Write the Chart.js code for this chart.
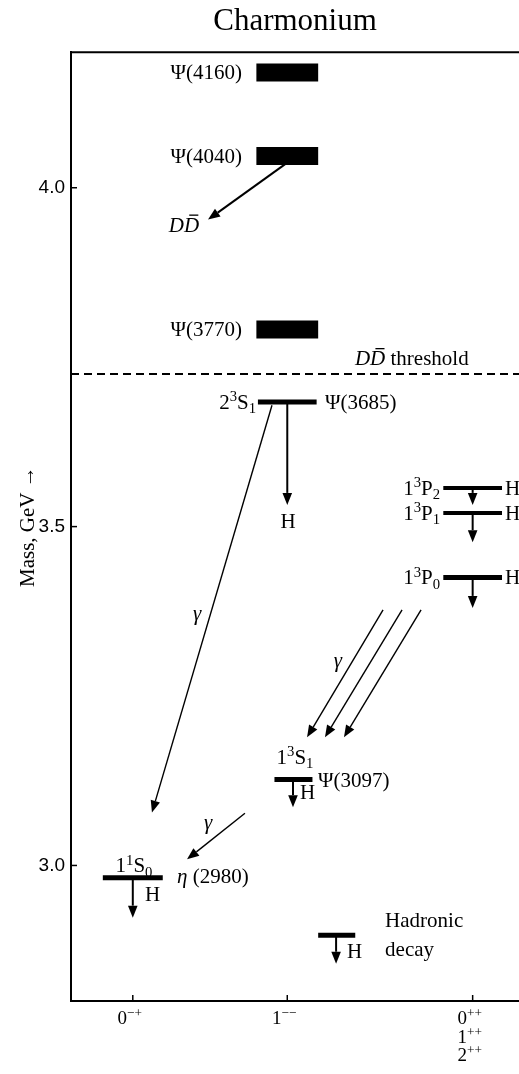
<!DOCTYPE html>
<html>
<head>
<meta charset="utf-8">
<script src="https://cdn.jsdelivr.net/npm/chart.js@4.4.1/dist/chart.umd.min.js"></script>
<style>
  html, body { margin: 0; padding: 0; background: #fff; }
  canvas { display: block; }
</style>
</head>
<body>
<canvas id="levelCanvas" width="519" height="1074"></canvas>
<script>
// Axis ticks
const yTickValues = [3.0, 3.5, 4.0];
const xTickValues = [0, 1, 2.2];
const xTickLabels = [["0^{−+}"], ["1^{−−}"], ["0^{++}", "1^{++}", "2^{++}"]];

// Energy levels: column (J^PC) and mass in GeV
const levelNames = ["Ψ(4160)", "Ψ(4040)", "Ψ(3770)", "2³S₁", "1³P₂", "1³P₁", "1³P₀", "1³S₁", "1¹S₀", "key"];
const levelColumns = [1, 1, 1, 1, 2.2, 2.2, 2.2, 1.04, 0, 1.32];
const levelMasses = [4.17, 4.047, 3.791, 3.684, 3.557, 3.52, 3.425, 3.127, 2.982, 2.897];

// DD threshold (GeV)
const thresholdMass = 3.725;

// Transitions (arrows), from -> to in (column, mass)
const transitionFromX = [1.0, 1.0, 0.901, 2.2, 2.2, 2.2, 1.62, 1.743, 1.866, 1.037, 0.726, 0.0, 1.316];
const transitionFromMass = [4.037, 3.682, 3.679, 3.557, 3.52, 3.425, 3.377, 3.377, 3.377, 3.127, 3.077, 2.982, 2.897];
const transitionToX = [0.487, 1.0, 0.124, 2.2, 2.2, 2.2, 1.128, 1.244, 1.367, 1.037, 0.351, 0.0, 1.316];
const transitionToMass = [3.953, 3.532, 3.078, 3.532, 3.477, 3.38, 3.189, 3.189, 3.189, 3.086, 3.009, 2.923, 2.855];
const transitionKinds = ["DD", "H", "γ", "H", "H", "H", "γ", "γ", "γ", "H", "γ", "H", "H"];

// Text annotations (^ = superscript, _ = subscript, * = italic toggle, ~ = bar over next char)
const noteTexts = ["Ψ(4160)", "Ψ(4040)", "Ψ(3770)", "*D~D*", "*D~D* threshold", "2^3S_1", "Ψ(3685)", "H",
  "1^3P_2", "1^3P_1", "1^3P_0", "H", "H", "H", "*γ*", "*γ*", "1^3S_1", "Ψ(3097)", "H", "*γ*",
  "1^1S_0", "*η* (2980)", "H", "H", "Hadronic", "decay"];
const noteX = [0.707, 0.707, 0.707, 0.331, 1.438, 0.798, 1.244, 1.005,
  1.989, 1.989, 1.989, 2.409, 2.409, 2.409, 0.416, 1.328, 1.05, 1.199, 1.082, 0.487,
  0.008, 0.286, 0.079, 1.387, 1.633, 1.633];
const noteMass = [4.17, 4.047, 3.791, 3.945, 3.748, 3.684, 3.684, 3.508,
  3.557, 3.52, 3.425, 3.557, 3.52, 3.425, 3.372, 3.303, 3.16, 3.126, 3.108, 3.064,
  3.0, 2.984, 2.958, 2.874, 2.919, 2.877];
const noteAlign = ["right", "right", "right", "center", "left", "right", "left", "center",
  "right", "right", "right", "left", "left", "left", "center", "center", "center", "left", "left", "center",
  "center", "left", "left", "left", "left", "left"];

// Styles
const SERIF = '"Liberation Serif", "Times New Roman", serif';
const SANS = '"Liberation Sans", Arial, sans-serif';
const levelHalfWidth = [0.2, 0.2, 0.2, 0.19, 0.19, 0.19, 0.19, 0.123, 0.194, 0.12];
const levelThickness = [18, 18, 18, 5, 4, 4, 5, 5, 5, 5];
const noteSize = 21;

const fontStr = (size, italic) => `${italic ? "italic " : ""}${size}px ${SERIF}`;

// Split a label into characters with sup/sub/italic/bar flags
const parseRich = (str) => {
  const segs = [];
  let italic = false;
  let i = 0;
  while (i < str.length) {
    const c = str[i];
    if (c === "*") { italic = !italic; i++; continue; }
    let mode = "n";
    let bar = false;
    let text;
    if (c === "^" || c === "_") {
      mode = c === "^" ? "sup" : "sub";
      i++;
      if (str[i] === "{") {
        const j = str.indexOf("}", i);
        text = str.slice(i + 1, j);
        i = j + 1;
      } else {
        text = str[i];
        i++;
      }
    } else if (c === "~") {
      bar = true;
      text = str[i + 1];
      i += 2;
    } else {
      text = c;
      i++;
    }
    segs.push({ text, mode, italic, bar });
  }
  return segs;
};

// Draw a label with its caps vertically centred on py
const drawRich = (ctx, str, px, py, align, size) => {
  const segs = parseRich(str);
  segs.forEach((s) => {
    s.size = s.mode === "n" ? size : size * 0.7;
    ctx.font = fontStr(s.size, s.italic);
    s.w = ctx.measureText(s.text).width;
  });
  const total = segs.reduce((a, s) => a + s.w, 0);
  let x = align === "left" ? px : align === "right" ? px - total : px - total / 2;
  const base = py + size * 0.33;
  ctx.textAlign = "left";
  ctx.textBaseline = "alphabetic";
  segs.forEach((s) => {
    const dy = s.mode === "sup" ? -size * 0.36 : s.mode === "sub" ? size * 0.2 : 0;
    ctx.font = fontStr(s.size, s.italic);
    ctx.fillText(s.text, x, base + dy);
    if (s.bar) {
      ctx.lineWidth = 1.3;
      ctx.beginPath();
      ctx.moveTo(x + s.w * 0.35, base - size * 0.8);
      ctx.lineTo(x + s.w * 0.95, base - size * 0.8);
      ctx.stroke();
    }
    x += s.w;
  });
};

const drawArrow = (ctx, x0, y0, x1, y1, width) => {
  const ang = Math.atan2(y1 - y0, x1 - x0);
  const headLen = 12;
  const headHalf = 4.8;
  const bx = x1 - headLen * Math.cos(ang);
  const by = y1 - headLen * Math.sin(ang);
  ctx.lineWidth = width;
  ctx.beginPath();
  ctx.moveTo(x0, y0);
  ctx.lineTo(bx, by);
  ctx.stroke();
  ctx.beginPath();
  ctx.moveTo(x1, y1);
  ctx.lineTo(bx + headHalf * Math.sin(ang), by - headHalf * Math.cos(ang));
  ctx.lineTo(bx - headHalf * Math.sin(ang), by + headHalf * Math.cos(ang));
  ctx.closePath();
  ctx.fill();
};

// Plugin: frame, inward ticks, arrows, labels
const diagramPlugin = {
  id: "diagram",
  afterDatasetsDraw(chart) {
    const { ctx, chartArea, scales } = chart;
    const xs = scales.x;
    const ys = scales.y;
    ctx.save();
    ctx.strokeStyle = "#000";
    ctx.fillStyle = "#000";

    // top frame line
    ctx.lineWidth = 2;
    ctx.beginPath();
    ctx.moveTo(chartArea.left, chartArea.top);
    ctx.lineTo(chartArea.right, chartArea.top);
    ctx.stroke();

    // inward tick marks
    ctx.lineWidth = 1.5;
    yTickValues.forEach((v) => {
      const py = ys.getPixelForValue(v);
      ctx.beginPath();
      ctx.moveTo(chartArea.left, py);
      ctx.lineTo(chartArea.left + 6, py);
      ctx.stroke();
    });
    xTickValues.forEach((v) => {
      const px = xs.getPixelForValue(v);
      ctx.beginPath();
      ctx.moveTo(px, chartArea.bottom);
      ctx.lineTo(px, chartArea.bottom - 6);
      ctx.stroke();
    });

    // arrows
    transitionKinds.forEach((kind, i) => {
      drawArrow(
        ctx,
        xs.getPixelForValue(transitionFromX[i]),
        ys.getPixelForValue(transitionFromMass[i]),
        xs.getPixelForValue(transitionToX[i]),
        ys.getPixelForValue(transitionToMass[i]),
        kind === "γ" ? 1.4 : 2
      );
    });

    // labels
    noteTexts.forEach((t, i) => {
      drawRich(ctx, t, xs.getPixelForValue(noteX[i]), ys.getPixelForValue(noteMass[i]), noteAlign[i], noteSize);
    });

    // x tick labels (J^PC)
    xTickValues.forEach((v, i) => {
      xTickLabels[i].forEach((line, k) => {
        drawRich(ctx, line, xs.getPixelForValue(v) - 3, chartArea.bottom + 17 + k * 18.5, "center", 19);
      });
    });
    ctx.restore();
  },
};

// Level datasets: short horizontal segments
const datasets = levelMasses.map((m, i) => ({
  label: levelNames[i],
  data: [
    { x: levelColumns[i] - levelHalfWidth[i], y: m },
    { x: levelColumns[i] + levelHalfWidth[i], y: m },
  ],
  showLine: true,
  borderColor: "#000",
  borderWidth: levelThickness[i],
  pointRadius: 0,
}));

datasets.push({
  label: "DD threshold",
  data: [
    { x: -0.4, y: thresholdMass },
    { x: 2.5, y: thresholdMass },
  ],
  showLine: true,
  borderColor: "#000",
  borderWidth: 2,
  borderDash: [8, 5],
  pointRadius: 0,
});

const levelChart = new Chart(document.getElementById("levelCanvas"), {
  type: "scatter",
  data: { datasets },
  options: {
    responsive: false,
    animation: false,
    layout: { padding: 0 },
    plugins: {
      legend: { display: false },
      tooltip: { enabled: false },
      title: {
        display: true,
        text: "Charmonium",
        fullSize: false,
        color: "#000",
        font: { family: SERIF, size: 31, weight: "normal" },
        padding: { top: 3, bottom: 12 },
      },
    },
    scales: {
      x: {
        type: "linear",
        min: -0.4,
        max: 2.5,
        grid: { display: false },
        border: { display: true, color: "#000", width: 2 },
        ticks: { display: false },
        afterBuildTicks: (s) => {
          s.ticks = xTickValues.map((v) => ({ value: v }));
        },
        afterFit: (s) => {
          s.height = 73;
        },
      },
      y: {
        type: "linear",
        min: 2.8,
        max: 4.2,
        grid: { display: false, drawTicks: false },
        border: { display: true, color: "#000", width: 2 },
        ticks: {
          color: "#000",
          padding: 6,
          font: { family: SANS, size: 19 },
          callback: (v) => v.toFixed(1),
        },
        afterBuildTicks: (s) => {
          s.ticks = yTickValues.map((v) => ({ value: v }));
        },
        afterFit: (s) => {
          s.width = 71;
        },
        title: {
          display: true,
          text: "Mass, GeV →",
          color: "#000",
          font: { family: SERIF, size: 21 },
          padding: { top: 16, bottom: 0 },
        },
      },
    },
  },
  plugins: [diagramPlugin],
});
</script>
</body>
</html>
